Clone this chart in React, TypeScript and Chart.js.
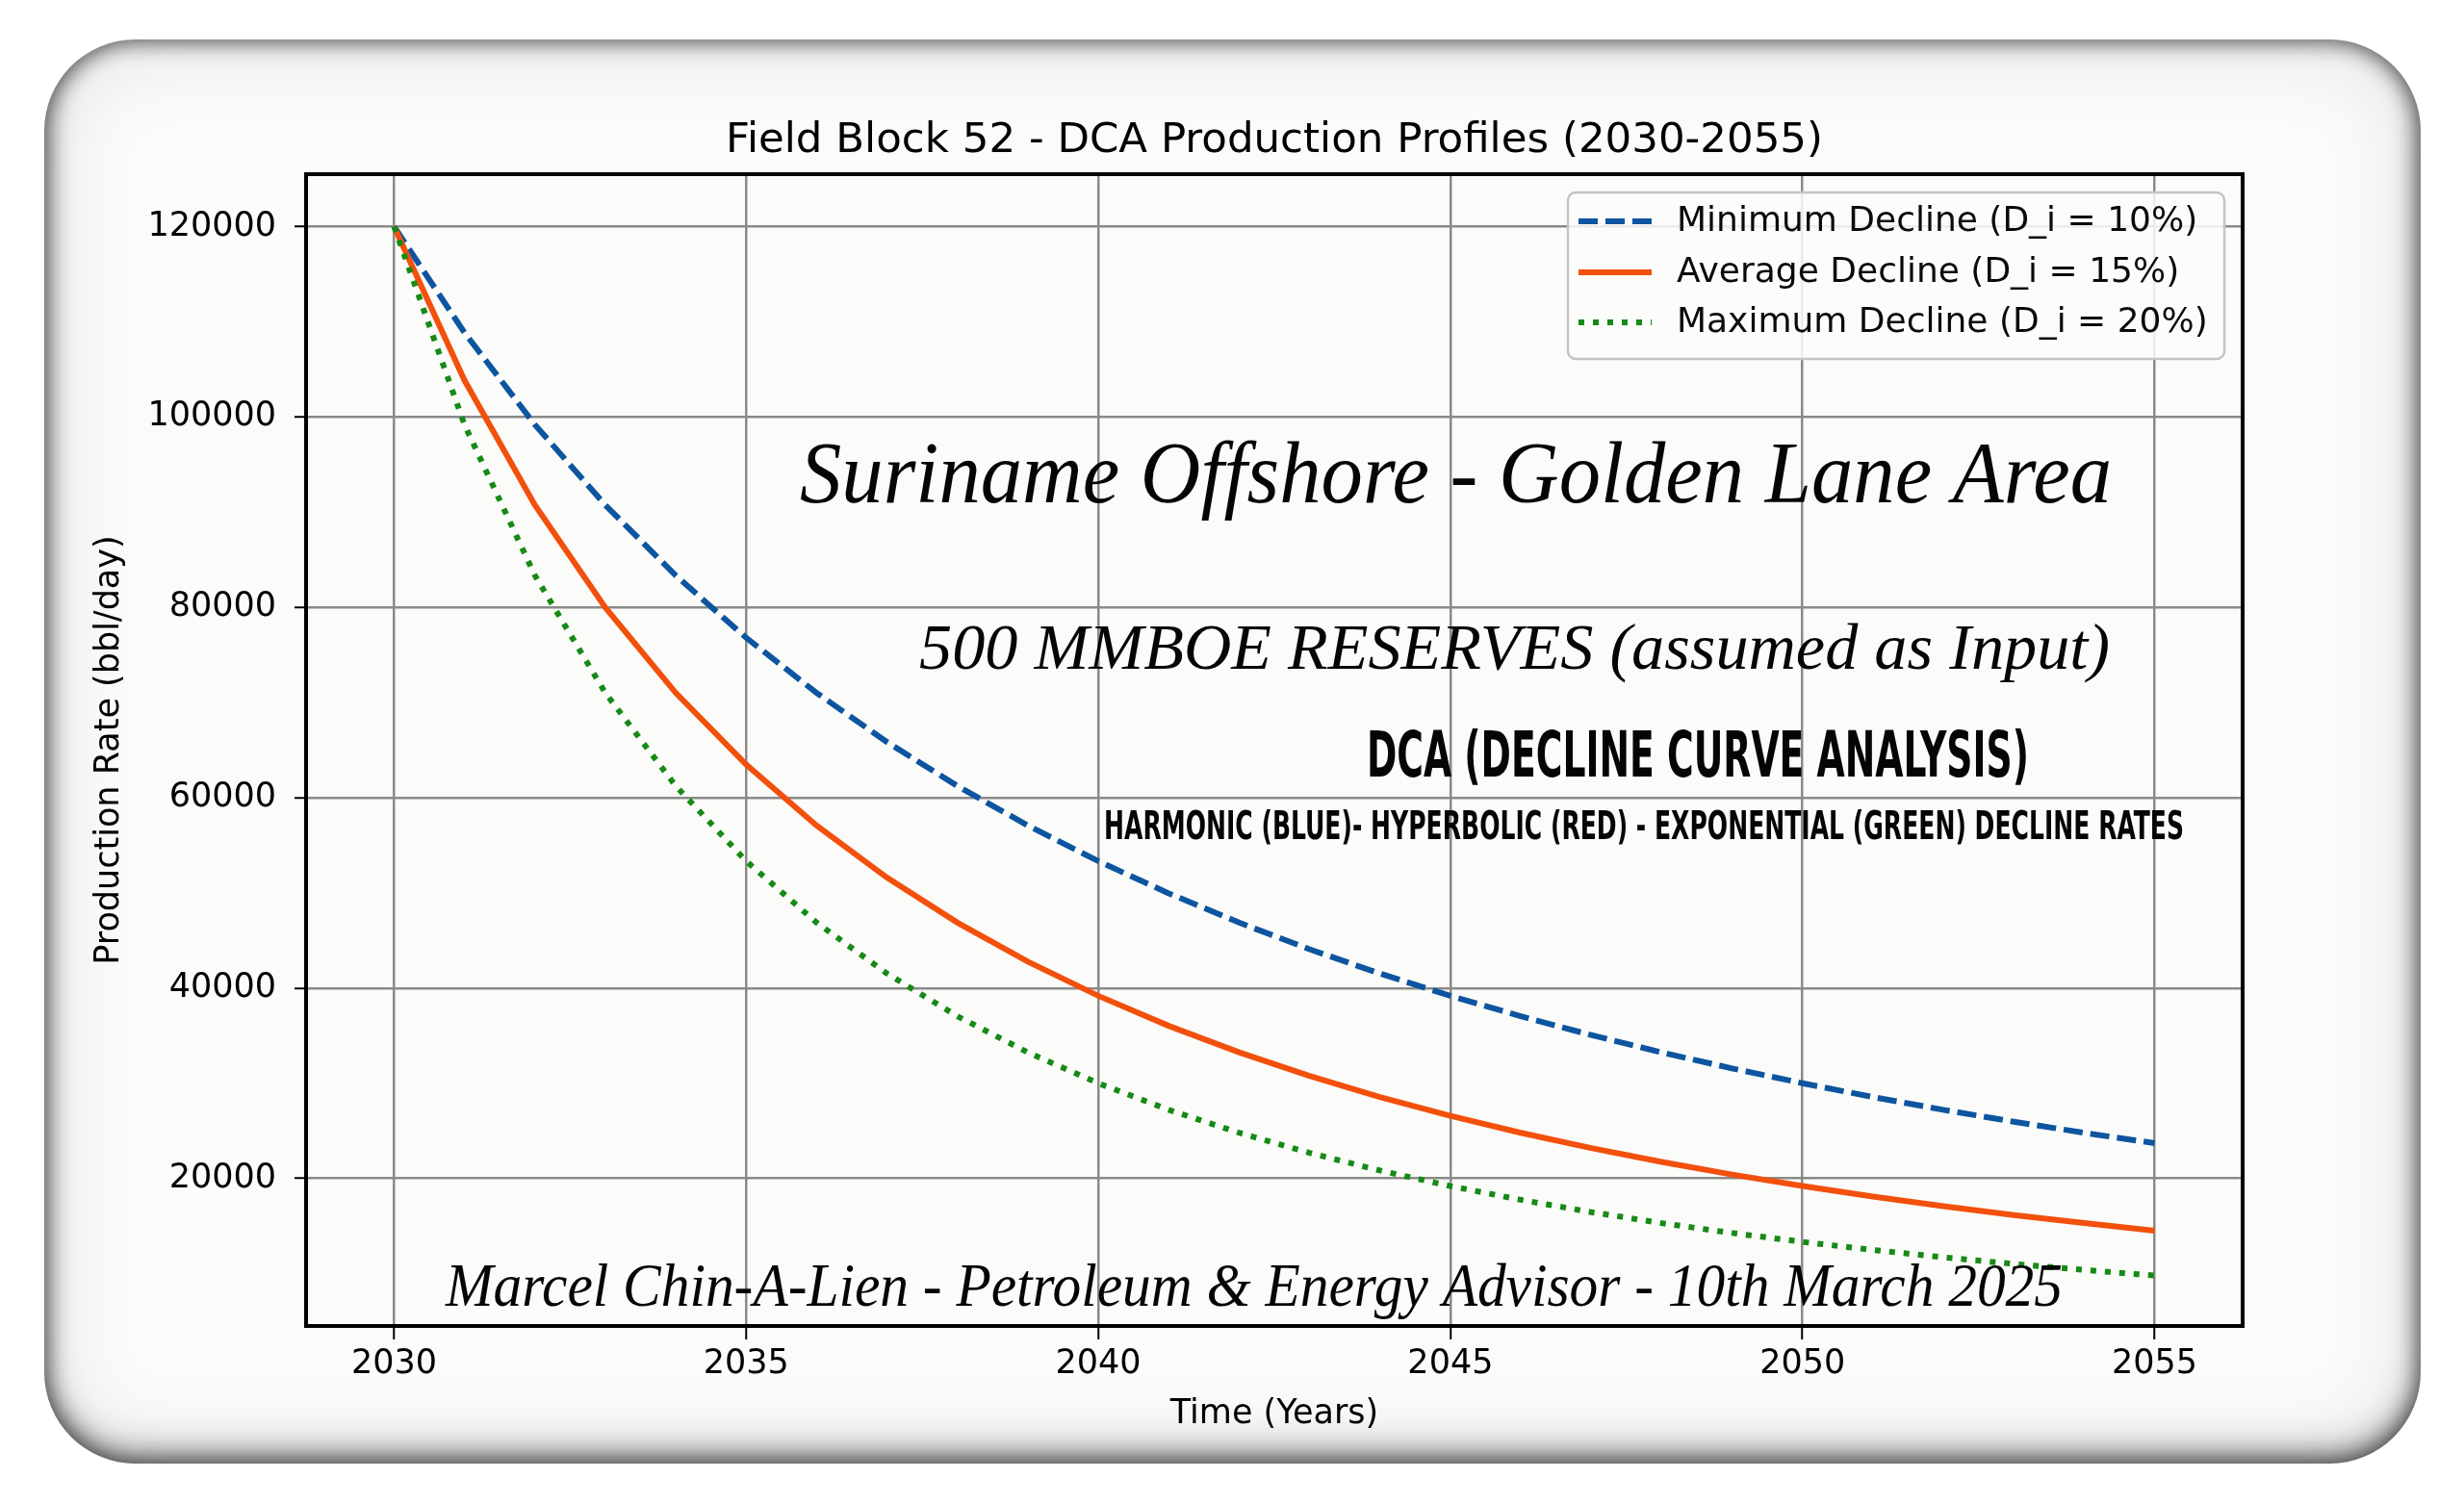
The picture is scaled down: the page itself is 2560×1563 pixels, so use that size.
import React, { useEffect, useRef } from 'react';
import { Chart, registerables } from 'chart.js';

Chart.register(...registerables);

// ---------- data ----------
const years = [
  2030, 2031, 2032, 2033, 2034, 2035, 2036, 2037, 2038, 2039, 2040, 2041, 2042,
  2043, 2044, 2045, 2046, 2047, 2048, 2049, 2050, 2051, 2052, 2053, 2054, 2055,
];
const minDecline = [
  120000, 108844, 99174, 90737, 83333, 76800, 71006, 65844, 61224, 57075, 53333,
  49948, 46875, 44077, 41522, 39184, 37037, 35062, 33241, 31558, 30000, 28554,
  27211, 25960, 24793, 23704,
];
const avgDecline = [
  120000, 103840, 90737, 79967, 71006, 63471, 57075, 51599, 46875, 42771, 39184,
  36029, 33241, 30764, 28554, 26574, 24793, 23186, 21729, 20406, 19200, 18098,
  17088, 16160, 15306, 14518,
];
const maxDecline = [
  120000, 99174, 83333, 71006, 61224, 53333, 46875, 41522, 37037, 33241, 30000,
  27211, 24793, 22684, 20833, 19200, 17751, 16461, 15306, 14269, 13333, 12487,
  11719, 11019, 10381, 9796,
];
const seriesLabels = [
  'Minimum Decline (D_i = 10%)',
  'Average Decline (D_i = 15%)',
  'Maximum Decline (D_i = 20%)',
];
const xTickValues = [2030, 2035, 2040, 2045, 2050, 2055];
const yTickValues = [20000, 40000, 60000, 80000, 100000, 120000];

const chartTitle = 'Field Block 52 - DCA Production Profiles (2030-2055)';
const xAxisTitle = 'Time (Years)';
const yAxisTitle = 'Production Rate (bbl/day)';

const headlineText = 'Suriname Offshore - Golden Lane Area';
const reservesText = '500 MMBOE RESERVES (assumed as Input)';
const dcaText = 'DCA (DECLINE CURVE ANALYSIS)';
const ratesText = 'HARMONIC (BLUE)- HYPERBOLIC (RED) - EXPONENTIAL (GREEN) DECLINE RATES';
const authorText = 'Marcel Chin-A-Lien - Petroleum & Energy Advisor - 10th March 2025';

// ---------- styling ----------
const SANS = '"DejaVu Sans", "Liberation Sans", sans-serif';
const SERIF = '"Liberation Serif", "DejaVu Serif", serif';
const NARROW = '"Liberation Sans Narrow", "DejaVu Sans Condensed", "Liberation Sans", sans-serif';

const W = 2560;
const H = 1563;
const AREA = { left: 318, top: 181, right: 2330, bottom: 1378 };

type Overlay = {
  text: string;
  family: string;
  style: string;
  capRatio: number;
  capH: number;
  baseline: number;
  x0: number;
  x1: number;
};

const overlays: Overlay[] = [
  { text: headlineText, family: SERIF, style: 'italic', capRatio: 0.662, capH: 60, baseline: 522, x0: 831, x1: 2194 },
  { text: reservesText, family: SERIF, style: 'italic', capRatio: 0.662, capH: 45, baseline: 695, x0: 955, x1: 2192 },
  { text: dcaText, family: NARROW, style: 'bold', capRatio: 0.72, capH: 47, baseline: 807, x0: 1420, x1: 2108 },
  { text: ratesText, family: NARROW, style: 'bold', capRatio: 0.72, capH: 30, baseline: 872, x0: 1147, x1: 2269 },
  { text: authorText, family: SERIF, style: 'italic', capRatio: 0.662, capH: 42, baseline: 1357, x0: 463, x1: 2143 },
];

const spinesPlugin = {
  id: 'spines',
  afterDatasetsDraw(chart: any) {
    const { ctx, chartArea } = chart;
    ctx.save();
    ctx.strokeStyle = '#000';
    ctx.lineWidth = 4;
    ctx.strokeRect(chartArea.left, chartArea.top, chartArea.right - chartArea.left, chartArea.bottom - chartArea.top);
    ctx.restore();
  },
};

const legendBoxPlugin = {
  id: 'legendBox',
  afterDatasetsDraw(chart: any) {
    const { ctx } = chart;
    const box = { x: 1629, y: 200, w: 682, h: 173, r: 8 };
    ctx.save();
    ctx.beginPath();
    ctx.moveTo(box.x + box.r, box.y);
    ctx.arcTo(box.x + box.w, box.y, box.x + box.w, box.y + box.h, box.r);
    ctx.arcTo(box.x + box.w, box.y + box.h, box.x, box.y + box.h, box.r);
    ctx.arcTo(box.x, box.y + box.h, box.x, box.y, box.r);
    ctx.arcTo(box.x, box.y, box.x + box.w, box.y, box.r);
    ctx.closePath();
    ctx.fillStyle = 'rgba(252,252,250,0.85)';
    ctx.fill();
    ctx.strokeStyle = '#c4c4c4';
    ctx.lineWidth = 2.5;
    ctx.stroke();
    const rowY = [230, 283, 335];
    chart.data.datasets.forEach((ds: any, i: number) => {
      const y = rowY[i];
      ctx.beginPath();
      ctx.setLineDash(ds.borderDash || []);
      ctx.lineCap = 'butt';
      ctx.strokeStyle = ds.borderColor;
      ctx.lineWidth = ds.borderWidth;
      ctx.moveTo(1640, y);
      ctx.lineTo(1716, y);
      ctx.stroke();
      ctx.setLineDash([]);
      ctx.fillStyle = '#0a0a0a';
      ctx.font = `36px ${SANS}`;
      ctx.textBaseline = 'middle';
      ctx.textAlign = 'left';
      ctx.fillText(ds.label, 1742, y + 1);
    });
    ctx.restore();
  },
};

const overlayTextPlugin = {
  id: 'overlayText',
  afterDraw(chart: any) {
    const { ctx } = chart;
    overlays.forEach((o) => {
      const size = o.capH / o.capRatio;
      ctx.save();
      ctx.font = `${o.style} ${size}px ${o.family}`;
      const w = ctx.measureText(o.text).width;
      const sx = (o.x1 - o.x0) / w;
      ctx.translate(o.x0, o.baseline);
      ctx.scale(sx, 1);
      ctx.fillStyle = '#050505';
      ctx.textBaseline = 'alphabetic';
      ctx.textAlign = 'left';
      ctx.fillText(o.text, 0, 0);
      ctx.restore();
    });
  },
};

export default function App() {
  const canvasRef = useRef<HTMLCanvasElement | null>(null);

  useEffect(() => {
    document.body.style.margin = '0';
    const canvas = canvasRef.current;
    if (!canvas) return;

    const mk = (vals: number[]) => years.map((x, i) => ({ x, y: vals[i] }));

    const chart = new Chart(canvas, {
      type: 'line',
      data: {
        datasets: [
          {
            label: seriesLabels[0],
            data: mk(minDecline),
            borderColor: '#0d55a0',
            backgroundColor: '#0d55a0',
            borderWidth: 6,
            borderDash: [20, 8],
            pointRadius: 0,
            tension: 0,
            fill: false,
            order: 2,
          },
          {
            label: seriesLabels[1],
            data: mk(avgDecline),
            borderColor: '#f2500c',
            backgroundColor: '#f2500c',
            borderWidth: 6,
            borderDash: [],
            pointRadius: 0,
            tension: 0,
            fill: false,
            order: 1,
          },
          {
            label: seriesLabels[2],
            data: mk(maxDecline),
            borderColor: '#168a16',
            backgroundColor: '#168a16',
            borderWidth: 6,
            borderDash: [6, 9],
            pointRadius: 0,
            tension: 0,
            fill: false,
            order: 0,
          },
        ],
      },
      options: {
        animation: false,
        responsive: false,
        maintainAspectRatio: false,
        devicePixelRatio: 1,
        layout: { padding: { left: 0, top: 0, right: W - AREA.right, bottom: 0 } },
        plugins: {
          legend: { display: false },
          tooltip: { enabled: false },
          title: {
            display: true,
            text: chartTitle,
            fullSize: false,
            color: '#000',
            font: { size: 43.5, family: SANS, weight: 'normal' },
            padding: { top: 121, bottom: 7.8 },
          },
        },
        scales: {
          x: {
            type: 'linear',
            min: 2028.75,
            max: 2056.25,
            bounds: 'data',
            afterBuildTicks: (s: any) => {
              s.ticks = xTickValues.map((v) => ({ value: v }));
            },
            afterFit: (s: any) => {
              s.height = H - AREA.bottom;
            },
            ticks: {
              callback: (v: any) => String(v),
              color: '#000',
              font: { size: 35, family: SANS },
              padding: 5,
              maxRotation: 0,
              autoSkip: false,
            },
            grid: {
              color: '#8a8a8a',
              lineWidth: 2.5,
              drawTicks: true,
              tickLength: 14,
              tickColor: '#000',
              tickWidth: 2,
            },
            border: { display: false },
            title: {
              display: true,
              text: xAxisTitle,
              color: '#000',
              font: { size: 35, family: SANS },
              padding: { top: 0, bottom: 72 },
            },
          },
          y: {
            type: 'linear',
            min: 4500,
            max: 125500,
            bounds: 'data',
            afterBuildTicks: (s: any) => {
              s.ticks = yTickValues.map((v) => ({ value: v }));
            },
            afterFit: (s: any) => {
              s.width = AREA.left;
            },
            ticks: {
              callback: (v: any) => String(v),
              color: '#000',
              font: { size: 35, family: SANS },
              padding: 19,
              autoSkip: false,
            },
            grid: {
              color: '#8a8a8a',
              lineWidth: 2.5,
              drawTicks: true,
              tickLength: 12,
              tickColor: '#000',
              tickWidth: 2,
            },
            border: { display: false },
            title: {
              display: true,
              text: yAxisTitle,
              color: '#000',
              font: { size: 35, family: SANS },
              padding: { top: 93, bottom: 0 },
            },
          },
        },
      },
      plugins: [spinesPlugin, legendBoxPlugin, overlayTextPlugin],
    } as any);

    return () => chart.destroy();
  }, []);

  return (
    <div style={{ position: 'absolute', left: 0, top: 0, width: W, height: H, background: '#ffffff', overflow: 'hidden' }}>
      <div
        style={{
          position: 'absolute',
          left: 46,
          top: 41,
          width: 2469,
          height: 1480,
          borderRadius: 95,
          background: '#fbfbf9',
          boxShadow:
            'inset 0 0 22px 3px rgba(0,0,0,0.6), inset 0 -16px 36px -4px rgba(0,0,0,0.35), inset 0 0 90px 10px rgba(0,0,0,0.1)',
        }}
      />
      <canvas
        ref={canvasRef}
        width={W}
        height={H}
        style={{ position: 'absolute', left: 0, top: 0, width: W, height: H }}
      />
    </div>
  );
}
